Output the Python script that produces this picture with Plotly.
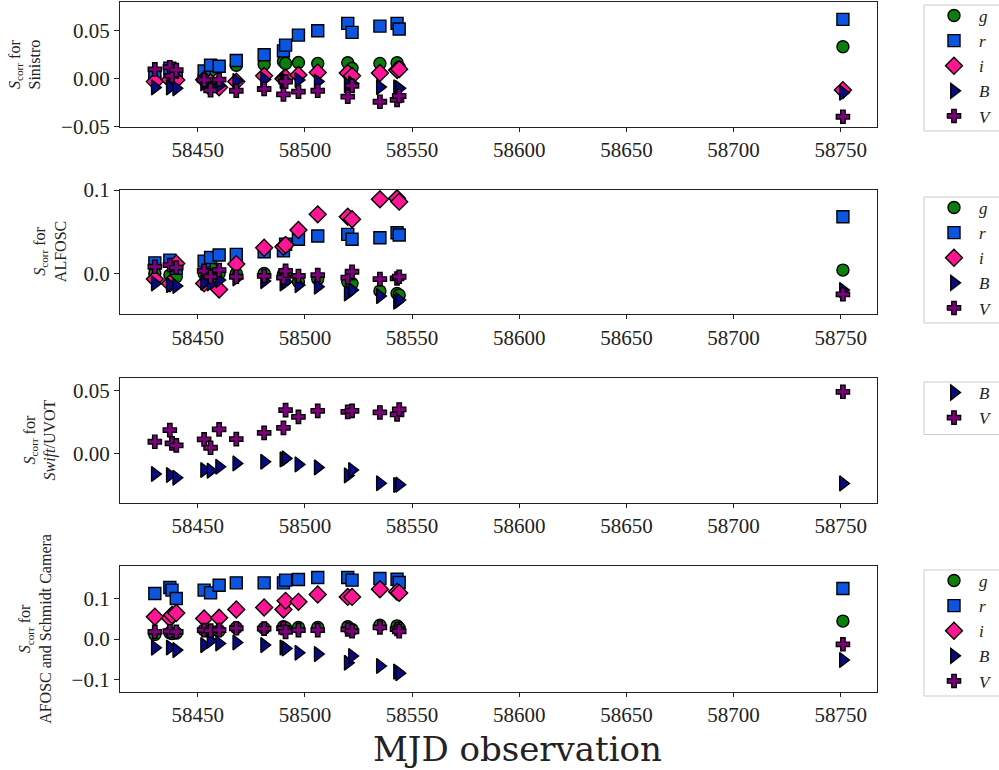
import plotly.graph_objects as go

# Observation dates (MJD)
mjd = [58430, 58437, 58438, 58440, 58453, 58456, 58460, 58468, 58481, 58490,
       58491, 58497, 58506, 58520, 58522, 58535, 58543, 58544, 58751]

# Sinistro
sin_g = [0.002, 0.003, None, 0.002, 0.004, 0.008, 0.012, 0.014, 0.015, 0.018,
         0.016, 0.017, 0.016, 0.0167, 0.011, 0.016, 0.0167, 0.012, 0.0333]
sin_r = [0.005, 0.011, None, 0.004, 0.008, 0.014, 0.013, 0.019, 0.025, 0.029,
         0.035, 0.0455, 0.050, 0.0577, 0.0483, 0.0549, 0.0577, 0.0518, 0.0619]
sin_i = [-0.003, -0.001, None, -0.0014, -0.001, -0.004, -0.009, -0.003, 0.003, 0.000,
         0.001, 0.004, 0.0066, 0.006, 0.003, 0.006, 0.009, 0.010, -0.0118]
sin_B = [-0.009, -0.009, None, -0.010, -0.005, -0.008, -0.007, -0.0024, -0.0007, -0.0024,
         -0.002, -0.0014, -0.003, -0.0066, -0.005, -0.0087, -0.009, -0.010, -0.0146]
sin_V = [0.0098, 0.012, 0.003, 0.009, -0.0014, -0.012, -0.001, -0.0125, -0.0107, -0.0163,
         -0.003, -0.0135, -0.0125, -0.0187, -0.0073, -0.024, -0.022, -0.018, -0.0396]

# ALFOSC
alf_g = [0.000, -0.002, None, -0.004, 0.000, 0.008, 0.000, 0.000, 0.000, -0.001,
         0.000, -0.010, -0.0068, -0.010, -0.012, -0.0212, -0.024, -0.026, 0.004]
alf_r = [0.0127, 0.016, None, 0.006, 0.0148, 0.019, 0.022, 0.0228, 0.026, 0.027,
         0.035, 0.041, 0.0448, 0.0468, 0.041, 0.0428, 0.0488, 0.046, 0.068]
alf_i = [-0.0068, -0.012, None, 0.012, -0.012, -0.006, -0.0192, 0.0112, 0.0307, 0.032,
         0.034, 0.052, 0.0708, 0.068, 0.065, 0.0888, 0.090, 0.086, None]
alf_B = [-0.012, -0.014, None, -0.015, -0.011, -0.012, -0.008, -0.006, -0.0092, -0.012,
         -0.010, -0.014, -0.016, -0.024, -0.020, -0.0272, -0.034, -0.032, -0.020]
alf_V = [0.008, 0.010, None, 0.007, 0.003, -0.004, 0.004, -0.004, -0.003, -0.005,
         0.003, -0.003, -0.002, -0.005, 0.002, -0.0068, -0.006, -0.004, -0.025]

# Swift/UVOT
uvo_B = [-0.0165, -0.0173, None, -0.0195, -0.0133, -0.0138, -0.0107, -0.008, -0.0067, -0.0048,
         -0.004, -0.0088, -0.0112, -0.0176, -0.0133, -0.0239, -0.0253, -0.025, -0.024]
uvo_V = [0.0093, 0.0186, 0.008, 0.0064, 0.0112, 0.0045, 0.0192, 0.0114, 0.0164, 0.0204,
         0.0346, 0.0292, 0.034, 0.0332, 0.034, 0.0327, 0.0311, 0.0351, 0.0492]

# AFOSC and Schmidt Camera
afo_g = [0.0117, 0.0157, 0.014, 0.015, 0.0224, 0.020, 0.021, 0.028, 0.027, 0.0306,
         0.028, 0.029, 0.029, 0.0306, 0.024, 0.0348, 0.033, 0.027, 0.0448]
afo_r = [0.1137, 0.1286, 0.122, 0.101, 0.122, 0.115, 0.134, 0.140, 0.140, 0.140,
         0.1468, 0.1485, 0.1535, 0.1535, 0.1468, 0.151, 0.149, 0.141, 0.126]
afo_i = [0.0555, 0.052, 0.060, 0.065, 0.0515, None, 0.053, 0.0738, 0.0788, 0.0738,
         0.0953, 0.0928, 0.111, 0.105, 0.105, 0.124, 0.1177, 0.115, None]
afo_B = [-0.0216, -0.021, None, -0.0274, -0.015, -0.004, -0.011, -0.0085, -0.015, -0.021,
         -0.0233, -0.034, -0.0373, -0.059, -0.042, -0.067, -0.081, -0.085, -0.052]
afo_V = [0.018, 0.0195, None, 0.018, 0.0224, 0.021, 0.0224, 0.027, 0.026, 0.027,
         0.018, 0.0224, 0.0224, 0.024, 0.0195, 0.029, 0.025, 0.0195, -0.013]

panel_labels = ["<i>S</i><sub>corr</sub> for<br>Sinistro",
                "<i>S</i><sub>corr</sub> for<br>ALFOSC",
                "<i>S</i><sub>corr</sub> for<br><i>Swift</i>/UVOT",
                "<i>S</i><sub>corr</sub> for<br>AFOSC and Schmidt Camera"]
x_ticks = [58450, 58500, 58550, 58600, 58650, 58700, 58750]

panels = [
    {"g": sin_g, "r": sin_r, "i": sin_i, "B": sin_B, "V": sin_V},
    {"g": alf_g, "r": alf_r, "i": alf_i, "B": alf_B, "V": alf_V},
    {"B": uvo_B, "V": uvo_V},
    {"g": afo_g, "r": afo_r, "i": afo_i, "B": afo_B, "V": afo_V},
]

style = {
    "g": dict(symbol="circle", color="#0a800a", size=12),
    "r": dict(symbol="square", color="#0b55e0", size=12),
    "i": dict(symbol="diamond", color="#ff1493", size=13),
    "B": dict(symbol="triangle-right", color="#0a0a80", size=13),
    "V": dict(symbol="cross", color="#800080", size=11),
}

FONT = "Liberation Serif"
W, H = 999, 770
# pixel geometry of each axes box (top, bottom)
boxes = [(2, 127), (190, 314.3), (378.3, 502.7), (566, 691.7)]
yranges = [[-0.0503, 0.080], [-0.049, 0.100], [-0.0394, 0.060], [-0.131, 0.182]]
ydticks = [0.05, 0.1, 0.05, 0.1]
yfmt = [".2f", ".1f", ".2f", ".1f"]
first_entry = [17, 209, 394, 582]
n_entries = [5, 5, 2, 5]
label_x = [25, 50, 40, 35]

fig = go.Figure()
layout = dict(width=W, height=H, margin=dict(l=0, r=0, t=0, b=0, autoexpand=False),
              paper_bgcolor="white", plot_bgcolor="white", template="none",
              font=dict(family=FONT, size=20, color="#222"),
              annotations=[], shapes=[])

for k, data in enumerate(panels):
    n = k + 1
    xa = "x" if n == 1 else f"x{n}"
    ya = "y" if n == 1 else f"y{n}"
    leg = "legend" if n == 1 else f"legend{n}"
    for f, vals in data.items():
        s = style[f]
        fig.add_trace(go.Scatter(
            x=mjd, y=vals, mode="markers", name=f"<i>{f}</i>",
            xaxis=xa, yaxis=ya, legend=leg,
            marker=dict(symbol=s["symbol"], color=s["color"], size=s["size"],
                        line=dict(color="black", width=1.4)),
        ))
    top, bot = boxes[k]
    axis_common = dict(showline=True, mirror=True, linecolor="#222", linewidth=1.3,
                       tickwidth=1.2, tickcolor="#222", ticks="outside",
                       showgrid=False, zeroline=False, automargin=False,
                       tickfont=dict(family=FONT, size=21, color="#222"))
    layout["xaxis" if n == 1 else f"xaxis{n}"] = dict(
        domain=[120 / W, 877 / W], range=[58413.75, 58766.9], ticklen=4,
        anchor=ya, tickvals=x_ticks, tickformat="d", **axis_common)
    layout["yaxis" if n == 1 else f"yaxis{n}"] = dict(
        domain=[1 - bot / H, 1 - top / H], range=yranges[k], ticklen=5,
        anchor=xa, dtick=ydticks[k], tick0=0, tickformat=yfmt[k], **axis_common)
    fe = first_entry[k]
    layout[leg] = dict(x=929 / W, xanchor="left", y=1 - (fe - 19) / H, yanchor="top",
                       bgcolor="rgba(0,0,0,0)", borderwidth=0, itemwidth=40,
                       font=dict(family=FONT, size=17, color="#222"))
    box_top = fe - 12
    box_bot = fe + 24.5 * (n_entries[k] - 1) + 16
    layout["shapes"].append(dict(
        type="rect", xref="paper", yref="paper", layer="below",
        x0=924 / W, x1=1.02, y0=1 - box_bot / H, y1=1 - box_top / H,
        line=dict(color="#cccccc", width=1), fillcolor="white"))
    layout["annotations"].append(dict(
        text=panel_labels[k], xref="paper", yref="paper",
        x=label_x[k] / W, y=1 - (top + bot) / 2 / H, xanchor="center", yanchor="middle",
        textangle=-90, showarrow=False, font=dict(family=FONT, size=16, color="#222")))

layout["annotations"].append(dict(
    text="MJD observation", xref="paper", yref="paper", x=517 / W, y=1 - 749 / H,
    xanchor="center", yanchor="middle", showarrow=False,
    font=dict(family="DejaVu Serif", size=34, color="#222")))

fig.update_layout(**layout)
fig.write_html("out.html")
